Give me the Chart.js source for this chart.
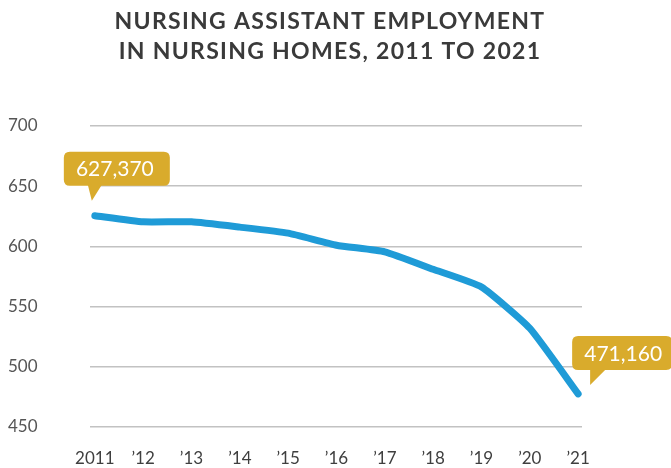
<!DOCTYPE html>
<html>
<head>
<meta charset="utf-8">
<script src="https://cdn.jsdelivr.net/npm/chart.js@4"></script>
<style>
html,body{margin:0;padding:0;background:#fff;}
#wrap{width:671px;height:468px;position:relative;}
</style>
</head>
<body>
<div id="wrap"><canvas id="c" width="671" height="468"></canvas></div>
<script>
const titleLines = ["NURSING ASSISTANT EMPLOYMENT", "IN NURSING HOMES, 2011 TO 2021"];
const categories = ["2011", "\u201912", "\u201913", "\u201914", "\u201915", "\u201916", "\u201917", "\u201918", "\u201919", "\u201920", "\u201921"];
const employment = [625.5, 620.4, 620.4, 616, 611, 601, 595.5, 581, 566.3, 532, 477.5];
const yTicks = [450, 500, 550, 600, 650, 700];
const calloutStart = "627,370";
const calloutEnd = "471,160";

const GOLD = "#d9ab2c";

const points = employment.map((v, i) => ({x: i, y: v}));

function roundRect(ctx, x, y, w, h, r) {
  ctx.beginPath();
  ctx.moveTo(x + r, y);
  ctx.lineTo(x + w - r, y);
  ctx.quadraticCurveTo(x + w, y, x + w, y + r);
  ctx.lineTo(x + w, y + h - r);
  ctx.quadraticCurveTo(x + w, y + h, x + w - r, y + h);
  ctx.lineTo(x + r, y + h);
  ctx.quadraticCurveTo(x, y + h, x, y + h - r);
  ctx.lineTo(x, y + r);
  ctx.quadraticCurveTo(x, y, x + r, y);
  ctx.closePath();
}

const titlePlugin = {
  id: 'titleText',
  afterDraw(chart) {
    const ctx = chart.ctx;
    ctx.save();
    ctx.fillStyle = "#3a3a3a";
    ctx.font = "bold 23px Lato";
    try { ctx.letterSpacing = "1.3px"; } catch (e) {}
    ctx.textAlign = "center";
    ctx.textBaseline = "middle";
    ctx.fillText(titleLines[0], 330, 22);
    ctx.fillText(titleLines[1], 330, 52);
    ctx.restore();
  }
};

const calloutPlugin = {
  id: 'callouts',
  afterDatasetsDraw(chart) {
    const ctx = chart.ctx;
    const meta = chart.getDatasetMeta(0);
    const p0 = meta.data[0];
    const p1 = meta.data[meta.data.length - 1];
    ctx.save();
    ctx.fillStyle = GOLD;
    // first callout
    let bx = p0.x - 31, by = p0.y - 64, bw = 106, bh = 34;
    roundRect(ctx, bx, by, bw, bh, 6); ctx.fill();
    ctx.beginPath();
    ctx.moveTo(p0.x - 7, by + bh - 1);
    ctx.lineTo(p0.x + 7, by + bh - 1);
    ctx.lineTo(p0.x - 3, by + bh + 15);
    ctx.closePath(); ctx.fill();
    ctx.fillStyle = "#ffffff";
    ctx.font = "21px Lato";
    ctx.textAlign = "center";
    ctx.textBaseline = "middle";
    ctx.fillText(calloutStart, bx + bw / 2 - 2, by + bh / 2 + 1);
    // last callout
    ctx.fillStyle = GOLD;
    bx = p1.x - 6; by = p1.y - 58; bw = 100; bh = 34;
    roundRect(ctx, bx, by, bw, bh, 6); ctx.fill();
    ctx.beginPath();
    ctx.moveTo(p1.x + 12, by + bh - 1);
    ctx.lineTo(p1.x + 28, by + bh - 1);
    ctx.lineTo(p1.x + 12, by + bh + 15);
    ctx.closePath(); ctx.fill();
    ctx.fillStyle = "#ffffff";
    ctx.fillText(calloutEnd, p1.x + 45, by + bh / 2 + 1);
    ctx.restore();
  }
};

new Chart(document.getElementById('c'), {
  type: 'line',
  data: {
    datasets: [{
      data: points,
      borderColor: "#1f9bd7",
      borderWidth: 7,
      borderCapStyle: 'round',
      borderJoinStyle: 'round',
      pointRadius: 0,
      tension: 0.15,
      clip: false,
      fill: false
    }]
  },
  options: {
    responsive: false,
    animation: false,
    devicePixelRatio: 1,
    layout: { padding: { left: 8, right: 89, top: 126, bottom: 0 } },
    plugins: { legend: { display: false }, tooltip: { enabled: false }, title: { display: false } },
    scales: {
      x: {
        type: 'linear',
        min: -0.1,
        max: 10.08,
        grid: { display: false },
        border: { display: false },
        afterBuildTicks(scale) { scale.ticks = categories.map((_, i) => ({value: i})); },
        afterFit(scale) { scale.height = 41; },
        ticks: {
          autoSkip: false,
          maxRotation: 0,
          padding: 13,
          color: "#3f3f3f",
          font: { family: "Lato", size: 17 },
          callback: (v) => categories[v]
        }
      },
      y: {
        min: 450,
        max: 700,
        afterBuildTicks(scale) { scale.ticks = yTicks.map(v => ({value: v})); },
        afterFit(scale) { scale.width = 82; },
        grid: { color: "#c2c2c2", lineWidth: 1.5, drawTicks: false },
        border: { display: false },
        ticks: {
          crossAlign: 'far',
          padding: 0,
          color: "#555555",
          font: { family: "Lato", size: 17 }
        }
      }
    }
  },
  plugins: [titlePlugin, calloutPlugin]
});
</script>
</body>
</html>
